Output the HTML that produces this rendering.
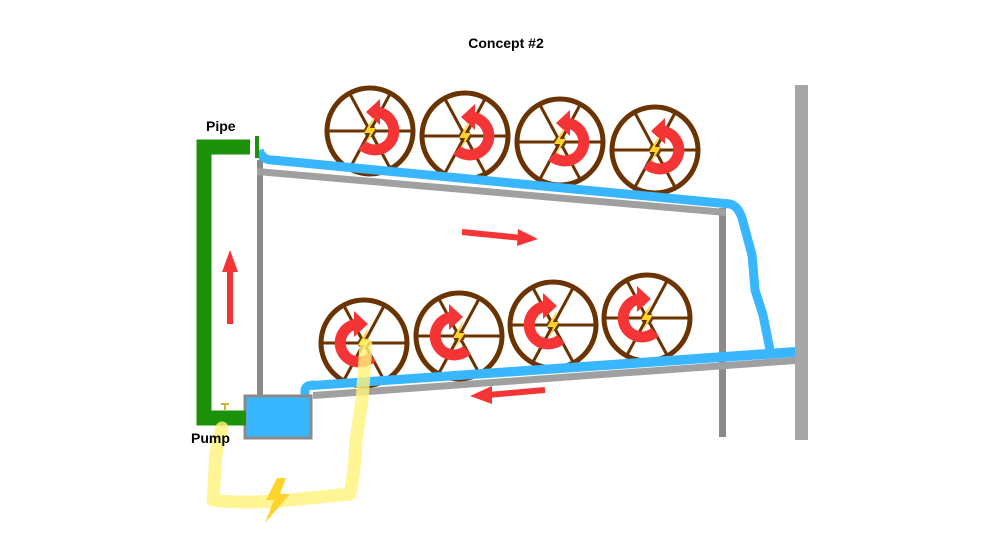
<!DOCTYPE html>
<html><head><meta charset="utf-8"><style>
html,body{margin:0;padding:0;background:#fff;}
svg{display:block}
text{font-family:"Liberation Sans",sans-serif;font-weight:bold;}
</style></head><body>
<svg width="1000" height="560" viewBox="0 0 1000 560" xmlns="http://www.w3.org/2000/svg">
<defs>
<g id="rim">
  <circle r="43" fill="none" stroke="#6b3300" stroke-width="5"/>
  <line x1="-43" y1="0" x2="43" y2="0" stroke="#6b3300" stroke-width="3"/>
  <line x1="-20" y1="-37" x2="20" y2="37" stroke="#6b3300" stroke-width="3"/>
  <line x1="20" y1="-37" x2="-20" y2="37" stroke="#6b3300" stroke-width="3"/>
  <circle r="6" fill="#6b3300"/>
</g>
<g id="arc">
  <path d="M2,-19 A19,19 0 1 1 -12,14" fill="none" stroke="#f53535" stroke-width="11"/>
  <polygon points="-8,-19 6,-32 6,-6" fill="#f53535"/>
</g>
<polygon id="bolt" points="3,-13 -6,2 0,2 -4,13 6,-3 0,-3 4,-13" fill="#ffd42a"/>
</defs>
<text x="506" y="48" font-size="14" text-anchor="middle" fill="#000">Concept #2</text>

<!-- frame -->
<rect x="257" y="160" width="6" height="238" fill="#8a8a8a"/>
<rect x="719" y="208" width="7" height="229" fill="#8a8a8a"/>
<rect x="795" y="85" width="13" height="355" fill="#a6a6a6"/>
<polygon points="257,168 726,209 726,216 257,175" fill="#a0a0a0"/>
<polygon points="313,392 795,357 795,364 313,399" fill="#a0a0a0"/>

<!-- top wheels -->
<g transform="translate(370,131)"><use href="#rim"/><use href="#arc" x="4"/><use href="#bolt"/></g>
<g transform="translate(465,136)"><use href="#rim"/><use href="#arc" x="4"/><use href="#bolt"/></g>
<g transform="translate(560,142)"><use href="#rim"/><use href="#arc" x="4"/><use href="#bolt"/></g>
<g transform="translate(655,150)"><use href="#rim"/><use href="#arc" x="4"/><use href="#bolt"/></g>
<!-- bottom wheels -->
<g transform="translate(364,343)"><use href="#rim"/><g transform="scale(-1,1)"><use href="#arc" x="4"/></g><use href="#bolt"/></g>
<g transform="translate(459,336)"><use href="#rim"/><g transform="scale(-1,1)"><use href="#arc" x="4"/></g><use href="#bolt"/></g>
<g transform="translate(553,325)"><use href="#rim"/><g transform="scale(-1,1)"><use href="#arc" x="4"/></g><use href="#bolt"/></g>
<g transform="translate(647,318)"><use href="#rim"/><g transform="scale(-1,1)"><use href="#arc" x="4"/></g><use href="#bolt"/></g>

<!-- water -->
<path d="M259,150 Q262,160 272,160 L730,204 Q738,206 742,218 L752,255 L755,290 L763,315 L770,350" fill="none" stroke="#38b6ff" stroke-width="9" stroke-linejoin="round"/>
<polygon points="312,381 795,347 795,357 312,390" fill="#38b6ff"/>
<path d="M305,396 L305,390 Q306,385 314,385" fill="none" stroke="#38b6ff" stroke-width="9"/>
<rect x="245" y="396" width="66" height="42" fill="#38b6ff" stroke="#8a8a8a" stroke-width="3"/>

<!-- pipe -->
<path d="M250,147 L204,147 L204,418 L246,418" fill="none" stroke="#1c920a" stroke-width="15"/>
<rect x="255" y="136" width="4" height="22" fill="#1c920a"/>
<path d="M221,404 L229,404 M225,404 L225,410" stroke="#c9b52a" stroke-width="2"/>

<!-- arrows -->
<rect x="227" y="270" width="6" height="54" fill="#f53535"/>
<polygon points="222,272 230,250 238,272" fill="#f53535"/>
<line x1="462" y1="232" x2="522" y2="238" stroke="#f53535" stroke-width="6"/>
<polygon points="518,229 538,239 517,246" fill="#f53535"/>
<line x1="545" y1="390" x2="488" y2="395" stroke="#f53535" stroke-width="6"/>
<polygon points="492,386 470,396 492,404" fill="#f53535"/>

<!-- electric wire -->
<path d="M222,428 Q215,450 215,470 L213,500 Q240,504 290,500 L350,494 Q355,470 356,440 L362,400 L366,345" fill="none" stroke="#fff27a" stroke-opacity="0.8" stroke-width="13" stroke-linejoin="round" stroke-linecap="round"/>
<polygon points="277,478 286,478 280,494 290,494 265,523 274,500 266,500" fill="#ffd42a"/>

<text x="206" y="131" font-size="14" fill="#000">Pipe</text>
<text x="191" y="443" font-size="14" fill="#000">Pump</text>
</svg>
</body></html>
